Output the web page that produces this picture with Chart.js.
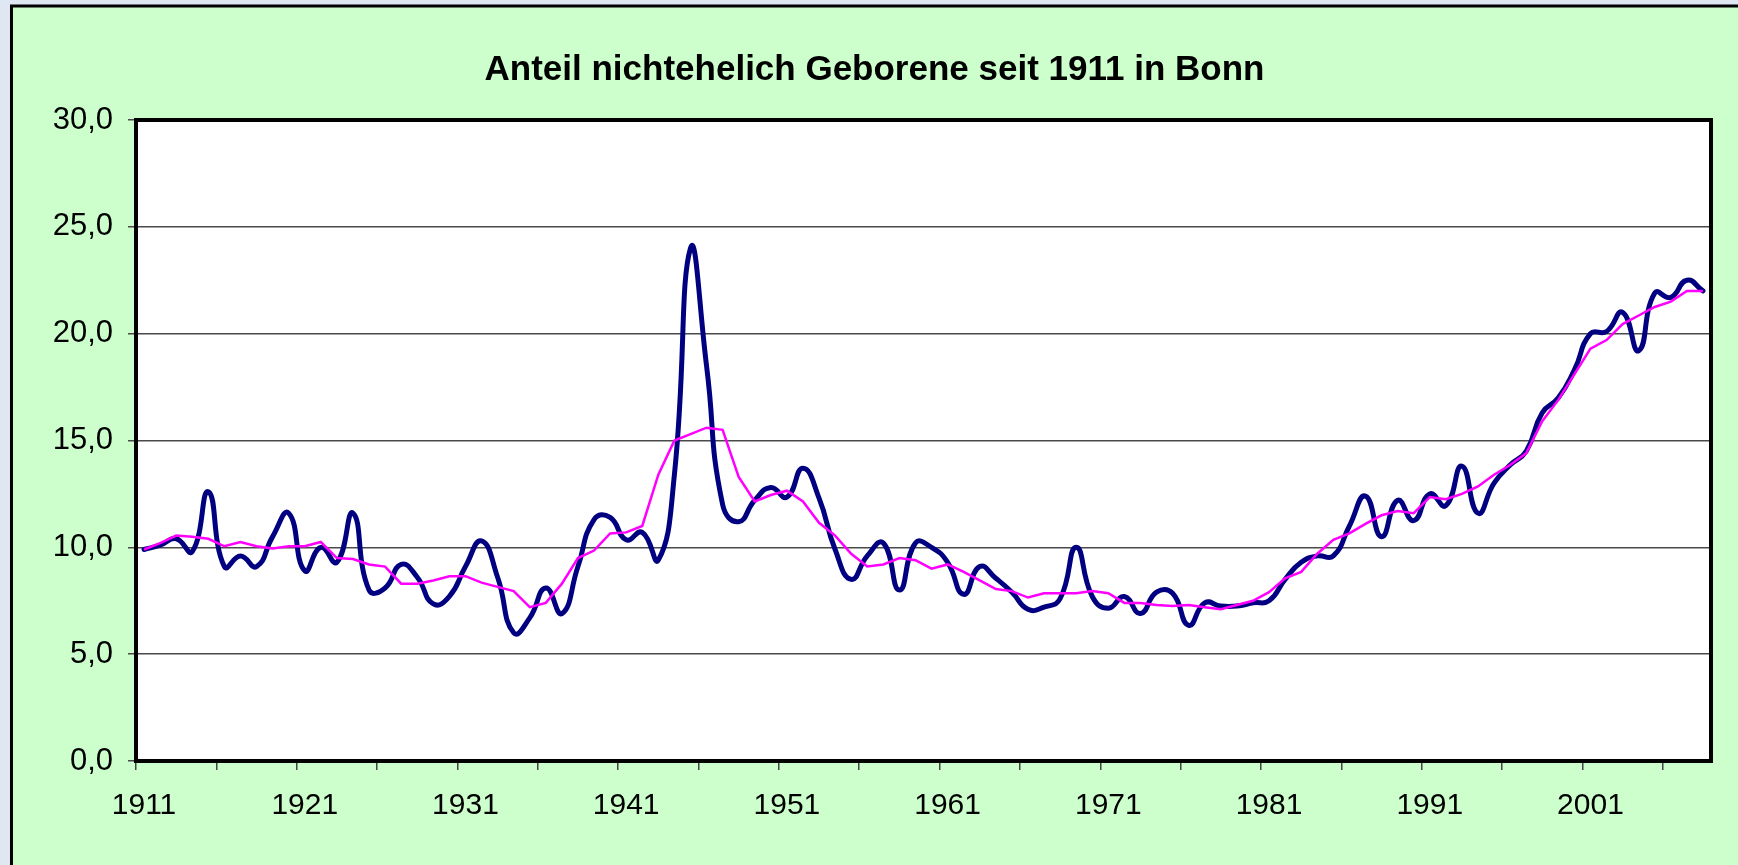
<!DOCTYPE html>
<html>
<head>
<meta charset="utf-8">
<script src="https://cdn.jsdelivr.net/npm/chart.js@4.4.1/dist/chart.umd.min.js"></script>
<style>
html,body{margin:0;padding:0;background:#dfe7f3;overflow:hidden}
#c{position:absolute;left:0;top:0}
</style>
</head>
<body>
<canvas id="c" width="1738" height="865"></canvas>
<script>
const years = [1911,1912,1913,1914,1915,1916,1917,1918,1919,1920,
1921,1922,1923,1924,1925,1926,1927,1928,1929,1930,
1931,1932,1933,1934,1935,1936,1937,1938,1939,1940,
1941,1942,1943,1944,1945,1946,1947,1948,1949,1950,
1951,1952,1953,1954,1955,1956,1957,1958,1959,1960,
1961,1962,1963,1964,1965,1966,1967,1968,1969,1970,
1971,1972,1973,1974,1975,1976,1977,1978,1979,1980,
1981,1982,1983,1984,1985,1986,1987,1988,1989,1990,
1991,1992,1993,1994,1995,1996,1997,1998,1999,2000,
2001,2002,2003,2004,2005,2006,2007,2008];

// Anteil nichtehelich Geborene (%), jährlich
const anteil = [9.9,10.1,10.4,9.8,12.6,9.1,9.6,9.1,10.5,11.6,
8.9,10.0,9.3,11.6,8.0,8.1,9.2,8.6,7.35,7.7,
9.1,10.3,8.6,6.0,6.7,8.1,6.9,9.1,11.3,11.4,
10.35,10.7,9.4,13.4,24.0,18.5,12.0,11.2,12.2,12.8,
12.35,13.7,12.3,9.9,8.5,9.6,10.2,8.0,10.2,10.0,
9.3,7.8,9.1,8.55,7.9,7.1,7.2,7.6,10.0,7.7,
7.15,7.7,6.9,7.9,7.85,6.35,7.4,7.25,7.25,7.4,
7.5,8.5,9.3,9.6,9.6,11.0,12.4,10.5,12.2,11.25,
12.5,11.95,13.8,11.6,13.0,13.85,14.5,16.3,17.0,18.3,
20.0,20.1,21.0,19.2,21.9,21.7,22.5,22.0];

// Trendlinie (gleitender Durchschnitt)
const trend = [9.9,10.2,10.55,10.5,10.4,10.05,10.25,10.05,9.95,10.05,
10.05,10.25,9.5,9.45,9.2,9.1,8.3,8.3,8.45,8.65,
8.65,8.35,8.15,7.95,7.2,7.4,8.3,9.5,9.85,10.65,
10.7,11.0,13.4,15.0,15.3,15.6,15.5,13.3,12.15,12.45,
12.65,12.15,11.15,10.55,9.7,9.1,9.2,9.5,9.4,9.0,
9.2,8.85,8.45,8.05,7.95,7.65,7.85,7.85,7.85,7.95,
7.85,7.4,7.4,7.3,7.25,7.3,7.2,7.1,7.3,7.5,
7.9,8.55,8.85,9.7,10.35,10.65,11.1,11.5,11.7,11.6,
12.35,12.25,12.5,12.85,13.4,13.85,14.4,15.9,16.9,18.1,
19.3,19.7,20.45,20.85,21.25,21.5,22.0,22.0];

const yMin = 0, yMax = 30, yStep = 5;
const titleText = 'Anteil nichtehelich Geborene seit 1911 in Bonn';
const FONT = '"Liberation Sans", Arial, Helvetica, sans-serif';

const bgPlugin = {
  id: 'bg',
  beforeDraw(chart) {
    const c = chart.ctx, W = chart.width, H = chart.height;
    c.save();
    c.fillStyle = '#dfe7f3';
    c.fillRect(0, 0, W, H);
    c.fillStyle = '#ccffcc';
    c.fillRect(11, 6, W - 11, H - 6);
    c.strokeStyle = '#000';
    c.lineWidth = 3;
    c.beginPath();
    c.moveTo(11.5, H); c.lineTo(11.5, 6); c.lineTo(W, 6);
    c.stroke();
    const a = chart.chartArea;
    c.fillStyle = '#ffffff';
    c.fillRect(a.left, a.top, a.right - a.left, a.bottom - a.top);
    c.restore();
  },
  beforeDatasetsDraw(chart) {
    const c = chart.ctx, a = chart.chartArea;
    c.save();
    c.strokeStyle = '#000';
    c.lineWidth = 4;
    c.strokeRect(a.left, a.top, a.right - a.left, a.bottom - a.top);
    c.restore();
  }
};

new Chart(document.getElementById('c'), {
  type: 'line',
  data: {
    labels: years,
    datasets: [
      {
        label: 'Anteil',
        data: anteil,
        borderColor: '#000080',
        borderWidth: 5,
        tension: 0.5,
        pointRadius: 0,
        fill: false,
        borderCapStyle: 'round',
        borderJoinStyle: 'round',
        order: 2
      },
      {
        label: 'Trend',
        data: trend,
        borderColor: '#ff00ff',
        borderWidth: 2.5,
        tension: 0,
        pointRadius: 0,
        fill: false,
        order: 1
      }
    ]
  },
  options: {
    responsive: false,
    animation: false,
    devicePixelRatio: 1,
    layout: { padding: { left: 11, top: 0, right: 0, bottom: 34 } },
    plugins: {
      legend: { display: false },
      tooltip: { enabled: false },
      title: {
        display: true,
        text: titleText,
        color: '#000',
        font: { family: FONT, size: 35, weight: 'bold' },
        padding: { top: 49, bottom: 29 }
      }
    },
    scales: {
      x: {
        type: 'category',
        offset: true,
        border: { display: false },
        grid: {
          offset: true,
          drawOnChartArea: false,
          drawTicks: true,
          tickLength: 9,
          lineWidth: 1.5,
          color: 'rgba(0,0,0,0)',
          tickColor: (ctx) => (ctx.index !== undefined && ctx.index % 5 === 0) ? '#444' : 'rgba(0,0,0,0)'
        },
        ticks: {
          autoSkip: false,
          maxRotation: 0,
          minRotation: 0,
          padding: 18,
          color: '#000',
          font: { family: FONT, size: 30 },
          callback: (v, i) => (i % 10 === 0 ? String(years[i]) : '')
        },
        afterFit(s) { s.height = 70; }
      },
      y: {
        min: yMin,
        max: yMax,
        border: { display: false },
        grid: {
          color: '#4a4a4a',
          lineWidth: 1.5,
          drawTicks: true,
          tickLength: 8,
          tickColor: '#4a4a4a'
        },
        ticks: {
          stepSize: yStep,
          padding: 15,
          color: '#000',
          font: { family: FONT, size: 31 },
          callback: (v) => Number(v).toFixed(1).replace('.', ',')
        },
        afterFit(s) { s.width = 125; }
      },
      yRight: {
        position: 'right',
        display: true,
        grid: { display: false, drawTicks: false },
        border: { display: false },
        ticks: { display: false },
        afterFit(s) { s.width = 27; }
      }
    }
  },
  plugins: [bgPlugin]
});
</script>
</body>
</html>
